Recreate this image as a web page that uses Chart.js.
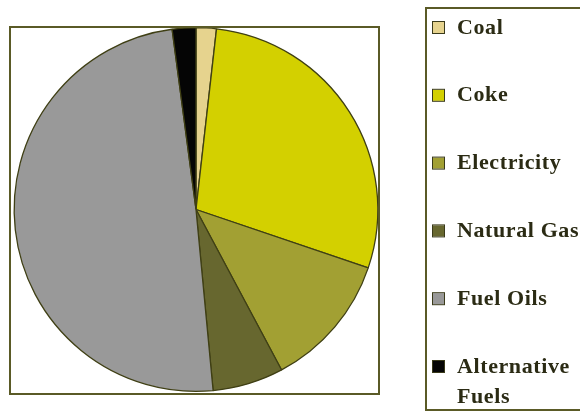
<!DOCTYPE html>
<html>
<head>
<meta charset="utf-8">
<script src="https://cdn.jsdelivr.net/npm/chart.js@4"></script>
<style>
  html, body { margin: 0; padding: 0; background: #fff; }
  #wrap { position: relative; width: 580px; height: 412px; }
</style>
</head>
<body>
<div id="wrap"><canvas id="fuelPie" width="580" height="412"></canvas></div>
<script>
// Fuel shares (percent)
const fuelLabels = ['Coal', 'Coke', 'Electricity', 'Natural Gas', 'Fuel Oils', 'Alternative Fuels'];
const fuelShares = [1.8, 28.4, 12.0, 6.3, 49.4, 2.1];
const fuelColors = ['#e6d38e', '#d3d000', '#a2a033', '#67672f', '#999999', '#050505'];

const frameColor = '#5a5a26';

// draws the two frames and the legend text
const framePlugin = {
    id: 'frames',
    afterDraw(chart) {
        const c = chart.ctx;
        c.save();
        c.strokeStyle = frameColor;
        c.lineWidth = 2;
        c.strokeRect(10, 27, 369, 367);
        c.strokeRect(426, 8, 170, 402);

        c.font = 'bold 22px "Liberation Serif", "Times New Roman", serif';
        c.letterSpacing = '0.6px';
        c.textBaseline = 'middle';
        fuelLabels.forEach((label, i) => {
            const y = 28 + i * 67.8;
            c.fillStyle = fuelColors[i];
            c.fillRect(433, y - 6, 11, 11);
            c.strokeStyle = '#3a3a1a';
            c.lineWidth = 1;
            c.strokeRect(432.5, y - 6.5, 12, 12);
            c.fillStyle = '#2b2b14';
            const words = label.split(' ');
            if (c.measureText(label).width > 130 && words.length > 1) {
                c.fillText(words[0], 457, y);
                c.fillText(words.slice(1).join(' '), 457, y + 30);
            } else {
                c.fillText(label, 457, y);
            }
        });
        c.restore();
    }
};

new Chart(document.getElementById('fuelPie'), {
    type: 'pie',
    data: {
        labels: fuelLabels,
        datasets: [{
            data: fuelShares,
            backgroundColor: fuelColors,
            borderColor: '#3f3f14',
            borderWidth: 1.3
        }]
    },
    options: {
        responsive: false,
        animation: false,
        layout: {
            padding: { left: 13, top: 27, right: 201, bottom: 20 }
        },
        plugins: {
            legend: { display: false },
            tooltip: { enabled: false }
        }
    },
    plugins: [framePlugin]
});
</script>
</body>
</html>
